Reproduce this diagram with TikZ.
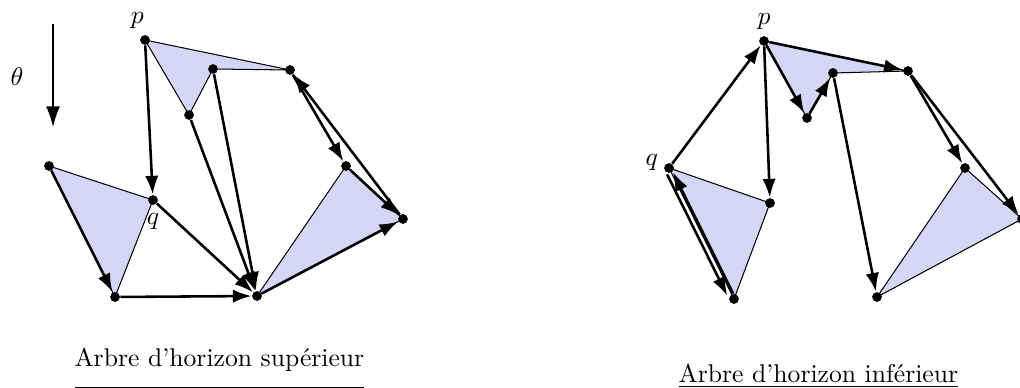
\documentclass[tikz,border=0pt]{standalone}
\usepackage{fontspec}
\usetikzlibrary{arrows.meta,positioning,backgrounds}
\definecolor{trifill}{RGB}{213,214,245}
\tikzset{
  vtx/.style={circle,fill=black,inner sep=0pt,minimum size=3.8pt},
  arr/.style={-{Latex[length=7.3pt,width=5.2pt]},line width=1pt},
  tri/.style={fill=trifill,draw=black,line width=0.4pt},
  tharr/.style={-{Latex[length=8pt,width=5.4pt]},line width=0.5pt},
  lbl/.style={inner sep=1pt},
  captxt/.style={anchor=base west,inner sep=0pt}
}
\begin{document}
\begin{tikzpicture}[x=0.39pt,y=-0.39pt]
  \useasboundingbox (0,0) rectangle (1020,388);

  \node[vtx] (sp) at (145,40) {};
  \node[vtx] (sa) at (213,69) {};
  \node[vtx] (sb) at (290,70) {};
  \node[vtx] (sc) at (189,115) {};
  \node[vtx] (sd) at (49,166) {};
  \node[vtx] (sq) at (153,200) {};
  \node[vtx] (se) at (115,297) {};
  \node[vtx] (sf) at (257,296) {};
  \node[vtx] (sg) at (346,166) {};
  \node[vtx] (sh) at (403,219) {};
  \node[lbl,above=1pt of sp,xshift=-3pt] {$p$};
  \node[lbl,below=2pt of sq] {$q$};

  \coordinate (thtop) at (53,24);
  \coordinate (thbot) at (53,127);
  \draw[tharr] (thtop)--(thbot);
  \node at (17,77) {$\theta$};

  \draw[arr] (sp)--(sq);
  \draw[arr] (sd)--(se);
  \draw[arr] (se)--(sf);
  \draw[arr] (sq)--(sf);
  \draw[arr] (sc)--(sf);
  \draw[arr] (sa)--(sf);
  \draw[arr] (sf)--(sh);
  \draw[arr] (sb)--(sg);
  \draw[arr] (sg)--(sh);
  \draw[arr] (sh)--(sb);

  \node[vtx] (ip) at (764,41) {};
  \node[vtx] (ia) at (833,73) {};
  \node[vtx] (ib) at (908,71) {};
  \node[vtx] (ic) at (807,118) {};
  \node[vtx] (iq) at (669,168) {};
  \node[vtx] (ij) at (770,203) {};
  \node[vtx] (ie) at (734,299) {};
  \node[vtx] (if) at (877,297) {};
  \node[vtx] (ig) at (965,168) {};
  \node[vtx] (ih) at (1022,219) {};
  \node[lbl,above=1pt of ip] {$p$};
  \node[lbl,left=1pt of iq,yshift=2pt] {$q$};

  \draw[arr] (iq)--(ip);
  \draw[arr] (ip)--(ij);
  \draw[arr] (ip)--(ic);
  \draw[arr] (ic)--(ia);
  \draw[arr] (ip)--(ib);
  \draw[arr] (ia)--(if);
  \draw[arr] (ib)--(ig);
  \draw[arr] (ib)--(ih);
  \draw[arr,transform canvas={xshift=-1.7pt,yshift=-0.6pt}] (iq)--(ie);
  \draw[arr,transform canvas={xshift=0.6pt,yshift=0.2pt}] (ie)--(iq);

  \begin{scope}[on background layer]
    \draw[tri] (sp.center)--(sb.center)--(sa.center)--(sc.center)--cycle;
    \draw[tri] (sd.center)--(sq.center)--(se.center)--cycle;
    \draw[tri] (sf.center)--(sg.center)--(sh.center)--cycle;
    \draw[tri] (ip.center)--(ib.center)--(ia.center)--(ic.center)--cycle;
    \draw[tri] (iq.center)--(ij.center)--(ie.center)--cycle;
    \draw[tri] (if.center)--(ig.center)--(ih.center)--cycle;
  \end{scope}

  \node[captxt] (capsup) at (74,367) {\underline{Arbre d'horizon supérieur\rule[-6.5pt]{0pt}{0pt}}};
  \node[captxt] (capinf) at (678,383) {\underline{Arbre d'horizon inférieur}};
\end{tikzpicture}
\end{document}
